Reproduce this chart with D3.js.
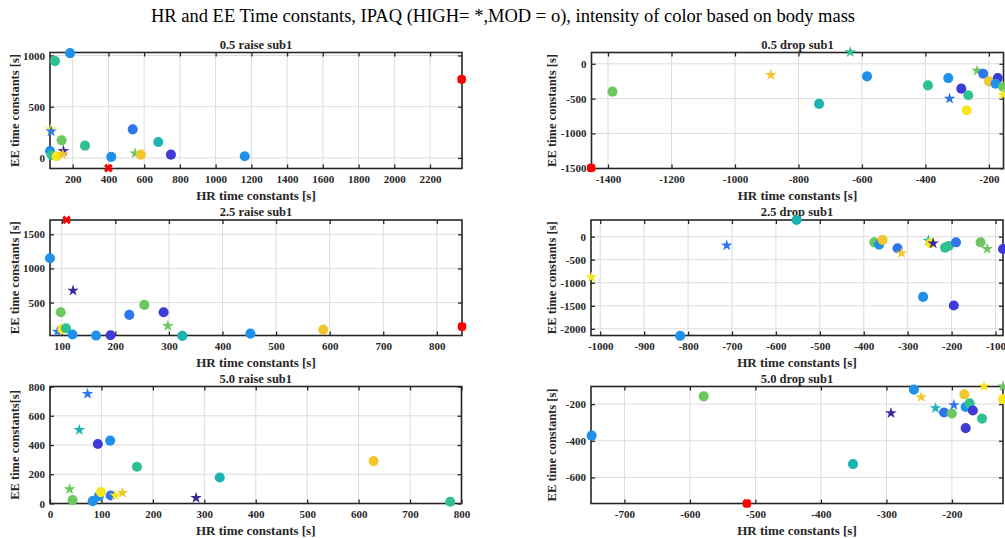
<!DOCTYPE html>
<html><head><meta charset="utf-8">
<script src="https://cdn.jsdelivr.net/npm/d3@7"></script>
<style>
body{margin:0;background:#fff}
svg{display:block}
text{font-family:"Liberation Serif","Times New Roman",serif;fill:#262626}
</style>
</head><body>
<svg id="c" width="1005" height="538"></svg>
<script>
// ---------------- DATA ----------------
const mainTitle = "HR and EE Time constants, IPAQ (HIGH= *,MOD = o), intensity of color based on body mass";
const panelTitles = ["0.5 raise sub1","0.5 drop sub1","2.5 raise sub1","2.5 drop sub1","5.0 raise sub1","5.0 drop sub1"];
const xLabel = "HR time constants [s]";
const yLabels = ["EE time constants [s]","EE time constants [s]","EE time constants [s]","EE time constants [s]","EE time constants[s]","EE time constants [s]"];

// axis limits
const xLims = [[73,2379],[-1452,-154],[78,847],[-1021,-83],[0,800],[-751,-122]];
const yLims = [[-103,1029],[-1503,162],[18,1709],[-2145,361],[0,800],[-742,-104]];
// tick values
const xTicks = [
  [200,400,600,800,1000,1200,1400,1600,1800,2000,2200],
  [-1400,-1200,-1000,-800,-600,-400,-200],
  [100,200,300,400,500,600,700,800],
  [-1000,-900,-800,-700,-600,-500,-400,-300,-200,-100],
  [0,100,200,300,400,500,600,700,800],
  [-700,-600,-500,-400,-300,-200]
];
const yTicks = [
  [0,500,1000],
  [-1500,-1000,-500,0],
  [500,1000,1500],
  [-2000,-1500,-1000,-500,0],
  [0,200,400,600,800],
  [-600,-400,-200]
];

// 0.5 raise
const raise05_hr  = [185,101,2377,77,79,138,269,73,82,110,148,144,400,416,536,549,582,679,750,1163];
const raise05_ee  = [1023,945,766,279,260,172,120,68,29,16,68,36,-100,10,279,45,32,156,32,16];
const raise05_col = ["azure","tgreen","red","yellow","blue","green","tgreen","azure","tgreen","yellow","navy","gold","red","azure","blue","green","gold","teal","indigo","azure"];
const raise05_mk  = ["o","o","ox","*","*","o","o","o","o","o","*","*","x","o","o","*","o","o","o","o"];

// 0.5 drop
const drop05_hr  = [-1453,-1386,-887,-637,-735,-584,-392,-328,-287,-324,-265,-270,-237,-218,-200,-172,-179,-155,-155];
const drop05_ee  = [-1495,-400,-160,167,-576,-181,-310,-205,-357,-500,-452,-667,-100,-143,-252,-205,-286,-333,-443];
const drop05_col = ["red","green","gold","tgreen","teal","azure","tgreen","azure","indigo","blue","tgreen","yellow","green","blue","gold","indigo","azure","green","yellow"];
const drop05_mk  = ["ox","o","*","*","o","o","o","o","o","*","o","o","*","o","o","o","o","o","*"];

// 2.5 raise
const raise25_hr  = [109,78,121,98,254,226,290,92,101,108,120,164,191,298,325,452,588,847];
const raise25_ee  = [1710,1149,676,359,466,320,359,76,110,124,32,17,22,159,12,46,105,149];
const raise25_col = ["red","azure","navy","green","green","blue","indigo","blue","yellow","tgreen","azure","azure","indigo","green","teal","azure","gold","red"];
const raise25_mk  = ["x","o","*","o","o","o","o","*","o","o","o","o","o","*","o","o","o","ox"];

// 2.5 drop
const drop25_hr  = [-1020,-712,-818,-553,-376,-365,-357,-323,-314,-265,-253,-248,-242,-215,-207,-190,-195,-134,-119,-83];
const drop25_ee  = [-881,-188,-2152,361,-123,-173,-72,-253,-361,-1307,-87,-144,-144,-238,-202,-123,-1495,-123,-267,-267];
const drop25_col = ["yellow","blue","azure","teal","green","azure","gold","blue","gold","azure","teal","yellow","navy","tgreen","tgreen","blue","indigo","green","green","indigo"];
const drop25_mk  = ["*","*","o","o","o","o","o","o","*","o","*","o","*","o","o","o","o","o","*","o"];

// 5.0 raise
const raise50_hr  = [73,57,93,117,169,330,629,778,38,44,83,95,99,118,127,141,284];
const raise50_ee  = [750,503,407,430,251,178,290,12,98,23,16,50,78,55,55,73,39];
const raise50_col = ["blue","teal","indigo","azure","tgreen","teal","gold","tgreen","green","green","azure","azure","yellow","blue","yellow","gold","navy"];
const raise50_mk  = ["*","*","o","o","o","o","o","o","*","o","o","o","o","o","*","*","*"];

// 5.0 drop
const drop50_hr  = [-750,-579,-513,-351,-293,-258,-247,-225,-212,-200,-197,-181,-179,-173,-168,-179,-154,-151,-122,-122];
const drop50_ee  = [-372,-158,-742,-527,-249,-121,-162,-222,-246,-251,-205,-147,-216,-196,-235,-331,-279,-103,-103,-173];
const drop50_col = ["azure","green","red","teal","navy","azure","gold","teal","blue","green","blue","gold","azure","tgreen","indigo","indigo","tgreen","yellow","green","yellow"];
const drop50_mk  = ["o","o","ox","o","*","o","*","*","o","o","*","o","o","o","o","o","o","*","*","o"];

// ---------------- STYLE ----------------
const palette = {navy:"#3a2b9c",indigo:"#3f3bd6",blue:"#2f76ee",azure:"#2091ea",teal:"#1db3b3",
  tgreen:"#2fc190",green:"#6cc75e",gold:"#f3c52e",yellow:"#f8e61c",red:"#ff0000"};

const panels = [
  {x:50,  y:52.5, w:412, h:116, hr:raise05_hr, ee:raise05_ee, col:raise05_col, mk:raise05_mk},
  {x:591.5,y:52.5,w:412, h:116, hr:drop05_hr,  ee:drop05_ee,  col:drop05_col,  mk:drop05_mk},
  {x:50,  y:220,  w:412, h:115.5, hr:raise25_hr, ee:raise25_ee, col:raise25_col, mk:raise25_mk},
  {x:591, y:220,  w:412, h:115.5, hr:drop25_hr,  ee:drop25_ee,  col:drop25_col,  mk:drop25_mk},
  {x:50,  y:386.5,w:411.5,h:117, hr:raise50_hr, ee:raise50_ee, col:raise50_col, mk:raise50_mk},
  {x:591, y:386.5,w:412, h:117, hr:drop50_hr,  ee:drop50_ee,  col:drop50_col,  mk:drop50_mk}
];

const svg = d3.select("#c");
svg.append("text").attr("x",503).attr("y",16).attr("text-anchor","middle")
  .attr("dominant-baseline","central").style("font-size","18.5px").style("fill","#000").text(mainTitle);

const starPath = d3.symbol().type(d3.symbolStar).size(42)();
const crossPath = d3.symbol().type(d3.symbolCross).size(48)();
const circlePath = d3.symbol().type(d3.symbolCircle).size(80)();
const smallCircle = d3.symbol().type(d3.symbolCircle).size(60)();

panels.forEach((p,i)=>{
  const xs = d3.scaleLinear().domain(xLims[i]).range([p.x, p.x+p.w]);
  const ys = d3.scaleLinear().domain(yLims[i]).range([p.y+p.h, p.y]);
  const g = svg.append("g");
  const xt = xTicks[i].filter(v=>v>=xLims[i][0]&&v<=xLims[i][1]);
  const yt = yTicks[i];
  g.selectAll(".gx").data(xt).join("line").attr("x1",d=>xs(d)).attr("x2",d=>xs(d))
    .attr("y1",p.y).attr("y2",p.y+p.h).attr("stroke","#dcdcdc").attr("stroke-width",1);
  g.selectAll(".gy").data(yt).join("line").attr("y1",d=>ys(d)).attr("y2",d=>ys(d))
    .attr("x1",p.x).attr("x2",p.x+p.w).attr("stroke","#dcdcdc").attr("stroke-width",1);
  const tk = 4;
  const axB = d3.axisBottom(xs).tickValues(xTicks[i]).tickSize(-tk).tickPadding(6.5).tickFormat(d=>d3.format("d")(d).replace("−","-"));
  const axT = d3.axisTop(xs).tickValues(xt).tickSize(-tk).tickFormat("");
  const axL = d3.axisLeft(ys).tickValues(yt).tickSize(-tk).tickPadding(5).tickFormat(d=>d3.format("d")(d).replace("−","-"));
  const axR = d3.axisRight(ys).tickValues(yt).tickSize(-tk).tickFormat("");
  [[axB,`translate(0,${p.y+p.h})`],[axT,`translate(0,${p.y})`],[axL,`translate(${p.x},0)`],[axR,`translate(${p.x+p.w},0)`]]
   .forEach(([ax,tr])=>{
     const a = g.append("g").attr("transform",tr).call(ax);
     a.select(".domain").remove();
     a.selectAll("line").attr("stroke","#262626").attr("stroke-width",1.3);
     a.selectAll("text").attr("fill","#262626").style("font-size","11px").style("font-weight","bold")
       .style("font-family","'Liberation Serif',serif");
   });
  g.append("rect").attr("x",p.x).attr("y",p.y).attr("width",p.w).attr("height",p.h)
    .attr("fill","none").attr("stroke","#262626").attr("stroke-width",1.6);
  g.append("text").attr("x",p.x+p.w/2).attr("y",p.y-8).attr("text-anchor","middle")
    .attr("dominant-baseline","central").style("font-size","12.5px").style("font-weight","bold").text(panelTitles[i]);
  g.append("text").attr("x",p.x+p.w/2).attr("y",p.y+p.h+27).attr("text-anchor","middle")
    .attr("dominant-baseline","central").style("font-size","13px").style("font-weight","bold").text(xLabel);
  const ylx = (p.x<100)?15:552;
  g.append("text").attr("transform",`translate(${ylx},${p.y+p.h/2}) rotate(-90)`).attr("text-anchor","middle")
    .attr("dominant-baseline","central").style("font-size","12.5px").style("font-weight","bold").text(yLabels[i]);
  const pts = p.hr.map((v,k)=>({x:v,y:p.ee[k],c:p.col[k],m:p.mk[k]}));
  const pg = g.append("g");
  pts.forEach(d=>{
    const tx = xs(d.x), ty = ys(d.y), fill = palette[d.c];
    if(d.m==="o"){
      pg.append("path").attr("d",circlePath).attr("transform",`translate(${tx},${ty})`).attr("fill",fill);
    } else if(d.m==="*"){
      pg.append("path").attr("d",starPath).attr("transform",`translate(${tx},${ty})`).attr("fill",fill);
    } else if(d.m==="ox"){
      pg.append("path").attr("d",smallCircle).attr("transform",`translate(${tx},${ty})`).attr("fill",fill);
      pg.append("path").attr("d",crossPath).attr("transform",`translate(${tx},${ty}) rotate(45)`).attr("fill",fill);
    } else {
      pg.append("path").attr("d",crossPath).attr("transform",`translate(${tx},${ty}) rotate(45)`).attr("fill",fill);
    }
  });
});
</script>
</body></html>
